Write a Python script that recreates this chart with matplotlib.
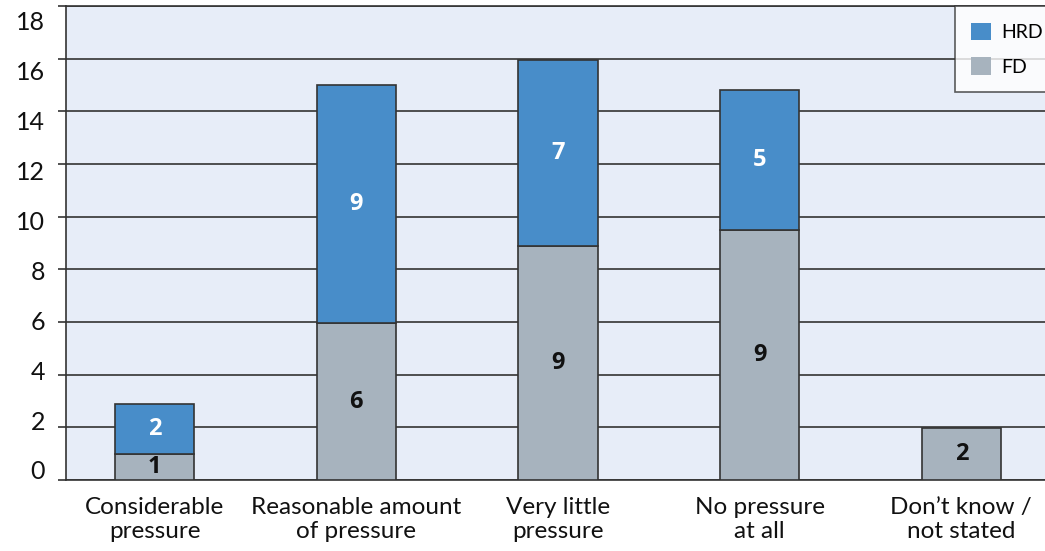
import matplotlib
matplotlib.use("Agg")
import matplotlib.pyplot as plt
import matplotlib.transforms as mtransforms
import numpy as np

categories = ["Considerable\npressure", "Reasonable amount\nof pressure", "Very little\npressure",
              "No pressure\nat all", "Don\u2019t know /\nnot stated"]
# bar heights as drawn in the reference (they do not sit exactly on the labelled counts)
fd_heights = [1.0, 5.95, 8.9, 9.5, 1.97]
hrd_heights = [1.87, 9.05, 7.05, 5.3, 0.0]
# counts printed inside the segments
fd_labels = ["1", "6", "9", "9", "2"]
hrd_labels = ["2", "9", "7", "5", ""]
yticks = [0, 2, 4, 6, 8, 10, 12, 14, 16, 18]

blue = "#488dc9"
grey = "#a7b3be"
bg = "#e7edf8"
edge = "#333333"

plt.rcParams['font.family'] = ['Lato', 'DejaVu Sans']

fig = plt.figure(figsize=(10.45, 5.51), dpi=100)
ax = fig.add_axes([0.0629, 0.1289, 0.9371, 0.8602])
ax.set_facecolor(bg)

x = np.arange(len(categories))
w = 0.393
b1 = ax.bar(x, fd_heights, w, color=grey, edgecolor=edge, linewidth=1.2, label="FD", zorder=3)
b2 = ax.bar(x, hrd_heights, w, bottom=fd_heights, color=blue, edgecolor=edge, linewidth=1.2,
            label="HRD", zorder=3)
# no HRD segment for the last category
b2[4].set_visible(False)

num_font = ['Open Sans', 'DejaVu Sans']
for i in range(len(x)):
    if fd_labels[i]:
        ax.text(x[i], fd_heights[i] / 2, fd_labels[i], ha="center", va="center", family=num_font,
                fontsize=17, fontweight="bold", color="#111111", zorder=4)
    if hrd_labels[i]:
        ax.text(x[i], fd_heights[i] + hrd_heights[i] / 2, hrd_labels[i], ha="center", va="center",
                family=num_font, fontsize=17, fontweight="bold", color="white", zorder=4)

ax.set_ylim(0, 18)
ax.set_xlim(-0.441, 4.415)
ax.set_yticks(yticks)
ax.set_yticklabels([str(v) for v in yticks])
ax.set_xticks(x)
ax.set_xticklabels(categories)
ax.yaxis.grid(True, color=edge, linewidth=1.2, zorder=1)
ax.set_axisbelow(True)

ax.tick_params(axis="y", length=6, width=1.2, color=edge, pad=9, labelsize=18, labelcolor="#111111")
ax.tick_params(axis="x", length=0, pad=12, labelsize=17.5, labelcolor="#111111")
for lbl in ax.get_xticklabels():
    lbl.set_linespacing(1.2)

# the y labels in the reference are spaced a little tighter than the gridlines
for v, lbl in zip(yticks, ax.get_yticklabels()):
    grid_px = 480 - v * 26.375
    label_px = 20 + 50 * (9 - v / 2)
    dy = -(label_px - grid_px) / 100.0
    lbl.set_transform(lbl.get_transform() + mtransforms.ScaledTranslation(0, dy, fig.dpi_scale_trans))

for s in ["left", "bottom", "top"]:
    ax.spines[s].set_color(edge)
    ax.spines[s].set_linewidth(1.2)
ax.spines["right"].set_visible(False)

handles = [b2, b1]
leg = ax.legend(handles, ["HRD", "FD"], loc="upper left", bbox_to_anchor=(0.908, 1.0),
                frameon=True, fancybox=False, edgecolor=edge, fontsize=14,
                handlelength=1.0, handleheight=1.0, labelspacing=0.85, handletextpad=0.55,
                borderpad=0.85, borderaxespad=0)
leg.get_frame().set_linewidth(1.2)
for h in leg.legend_handles:
    h.set_edgecolor("none")

fig.savefig("out.png", dpi=100)
